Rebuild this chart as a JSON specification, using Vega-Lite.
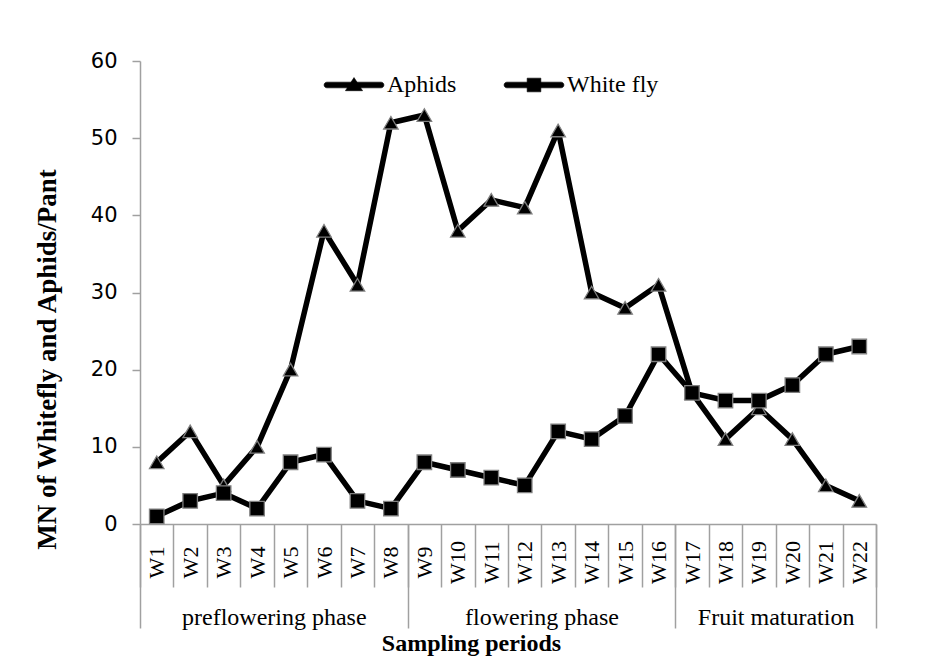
{
  "$schema": "https://vega.github.io/schema/vega-lite/v6.json",
  "width": 736,
  "height": 463,
  "autosize": {"type": "none"},
  "padding": {"left": 140, "top": 61, "right": 74, "bottom": 139},
  "background": "white",
  "config": {"view": {"stroke": null}, "axis": {"grid": false}},
  "datasets": {
    "counts": [
      {"week": "W1", "series": "Aphids", "value": 8},
      {"week": "W2", "series": "Aphids", "value": 12},
      {"week": "W3", "series": "Aphids", "value": 5},
      {"week": "W4", "series": "Aphids", "value": 10},
      {"week": "W5", "series": "Aphids", "value": 20},
      {"week": "W6", "series": "Aphids", "value": 38},
      {"week": "W7", "series": "Aphids", "value": 31},
      {"week": "W8", "series": "Aphids", "value": 52},
      {"week": "W9", "series": "Aphids", "value": 53},
      {"week": "W10", "series": "Aphids", "value": 38},
      {"week": "W11", "series": "Aphids", "value": 42},
      {"week": "W12", "series": "Aphids", "value": 41},
      {"week": "W13", "series": "Aphids", "value": 51},
      {"week": "W14", "series": "Aphids", "value": 30},
      {"week": "W15", "series": "Aphids", "value": 28},
      {"week": "W16", "series": "Aphids", "value": 31},
      {"week": "W17", "series": "Aphids", "value": 17},
      {"week": "W18", "series": "Aphids", "value": 11},
      {"week": "W19", "series": "Aphids", "value": 15},
      {"week": "W20", "series": "Aphids", "value": 11},
      {"week": "W21", "series": "Aphids", "value": 5},
      {"week": "W22", "series": "Aphids", "value": 3},
      {"week": "W1", "series": "White fly", "value": 1},
      {"week": "W2", "series": "White fly", "value": 3},
      {"week": "W3", "series": "White fly", "value": 4},
      {"week": "W4", "series": "White fly", "value": 2},
      {"week": "W5", "series": "White fly", "value": 8},
      {"week": "W6", "series": "White fly", "value": 9},
      {"week": "W7", "series": "White fly", "value": 3},
      {"week": "W8", "series": "White fly", "value": 2},
      {"week": "W9", "series": "White fly", "value": 8},
      {"week": "W10", "series": "White fly", "value": 7},
      {"week": "W11", "series": "White fly", "value": 6},
      {"week": "W12", "series": "White fly", "value": 5},
      {"week": "W13", "series": "White fly", "value": 12},
      {"week": "W14", "series": "White fly", "value": 11},
      {"week": "W15", "series": "White fly", "value": 14},
      {"week": "W16", "series": "White fly", "value": 22},
      {"week": "W17", "series": "White fly", "value": 17},
      {"week": "W18", "series": "White fly", "value": 16},
      {"week": "W19", "series": "White fly", "value": 16},
      {"week": "W20", "series": "White fly", "value": 18},
      {"week": "W21", "series": "White fly", "value": 22},
      {"week": "W22", "series": "White fly", "value": 23}
    ],
    "phases": [
      {"phase": "preflowering phase", "start": 0, "end": 8},
      {"phase": "flowering phase", "start": 8, "end": 16},
      {"phase": "Fruit maturation", "start": 16, "end": 22}
    ]
  },
  "layer": [
    {
      "layer": [
        {
          "data": {"name": "counts"},
          "mark": {"type": "line", "strokeWidth": 5.5, "strokeJoin": "round"},
          "encoding": {
            "x": {
              "field": "week", "type": "ordinal", "sort": null,
              "scale": {"type": "band", "paddingInner": 0, "paddingOuter": 0},
              "axis": {
                "title": null,
                "domainColor": "#a0a0a0", "domainWidth": 1.5,
                "tickColor": "#a0a0a0", "tickWidth": 1.5, "tickSize": 63, "tickBand": "extent",
                "labelAngle": 270, "labelAlign": "center", "labelBaseline": "middle", "labelPadding": -25,
                "labelFont": "Liberation Serif", "labelFontSize": 22, "labelColor": "#000000",
                "labelOverlap": false
              }
            },
            "y": {
              "field": "value", "type": "quantitative",
              "scale": {"domain": [0, 60], "nice": false},
              "axis": {
                "title": "MN of Whitefly and Aphids/Pant",
                "values": [0, 10, 20, 30, 40, 50, 60],
                "domainColor": "#a0a0a0", "domainWidth": 1.5,
                "tickColor": "#a0a0a0", "tickWidth": 1.5, "tickSize": 8,
                "labelFont": "DejaVu Sans", "labelFontSize": 21, "labelColor": "#000000", "labelPadding": 15,
                "titleFont": "Liberation Serif", "titleFontWeight": "bold", "titleFontSize": 27, "titleColor": "#000000",
                "titleX": -93, "titleY": 298, "titleAngle": 270, "titleAlign": "center", "titleBaseline": "middle",
                "titleLimit": 600
              }
            },
            "color": {
              "field": "series", "type": "nominal",
              "scale": {"range": ["#000000", "#000000"]},
              "legend": {
                "title": null, "orient": "none", "direction": "horizontal",
                "legendX": 185, "legendY": -5,
                "symbolSize": 3249, "labelOffset": 4, "columnPadding": 45,
                "labelFont": "Liberation Serif", "labelFontSize": 24, "labelColor": "#000000",
                "encode": {
                  "symbols": {
                    "update": {
                      "shape": {"signal": "datum.value === 'Aphids' ? 'M-0.95,-0.1H0.95A0.1,0.1 0 0 1 0.95,0.1H-0.95A0.1,0.1 0 0 1 -0.95,-0.1Z M0,-0.26L0.3,0.2L-0.3,0.2Z' : 'M-0.95,-0.1H0.95A0.1,0.1 0 0 1 0.95,0.1H-0.95A0.1,0.1 0 0 1 -0.95,-0.1Z M-0.24,-0.24H0.24V0.24H-0.24Z'"},
                      "fill": {"value": "#000000"},
                      "stroke": {"value": "#606060"},
                      "strokeWidth": {"value": 0.6},
                      "opacity": {"value": 1}
                    }
                  }
                }
              }
            }
          }
        },
        {
          "data": {"name": "counts"},
          "mark": {"type": "point", "filled": true, "fill": "#000000", "stroke": "#808080", "strokeWidth": 1.3, "opacity": 1, "size": 210},
          "encoding": {
            "x": {"field": "week", "type": "ordinal", "sort": null},
            "y": {"field": "value", "type": "quantitative"},
            "shape": {"field": "series", "type": "nominal", "scale": {"range": ["triangle-up", "square"]}, "legend": null}
          }
        }
      ]
    },
    {
      "data": {"name": "phases"},
      "mark": {"type": "rule", "opacity": 0},
      "encoding": {
        "x": {
          "field": "start", "type": "quantitative",
          "scale": {"domain": [0, 22], "nice": false, "zero": false},
          "axis": {
            "orient": "bottom",
            "values": [0, 4, 8, 12, 16, 19, 22],
            "domain": false,
            "tickSize": 104, "tickWidth": 1.5,
            "tickColor": {"condition": {"test": "datum.value == 4 || datum.value == 12 || datum.value == 19", "value": "transparent"}, "value": "#a0a0a0"},
            "labelExpr": "datum.value == 4 ? 'preflowering phase' : datum.value == 12 ? 'flowering phase' : datum.value == 19 ? 'Fruit maturation' : ''",
            "labelAngle": 0, "labelAlign": "center", "labelBaseline": "middle", "labelPadding": -11,
            "labelFont": "Liberation Serif", "labelFontSize": 24, "labelColor": "#000000",
            "labelOverlap": false, "labelFlush": false, "labelLimit": 400,
            "title": "Sampling periods",
            "titleFont": "Liberation Serif", "titleFontWeight": "bold", "titleFontSize": 24, "titleColor": "#000000",
            "titlePadding": 2, "titleX": 331, "titleAlign": "center"
          }
        }
      }
    }
  ],
  "resolve": {"scale": {"x": "independent"}, "axis": {"x": "independent"}}
}
